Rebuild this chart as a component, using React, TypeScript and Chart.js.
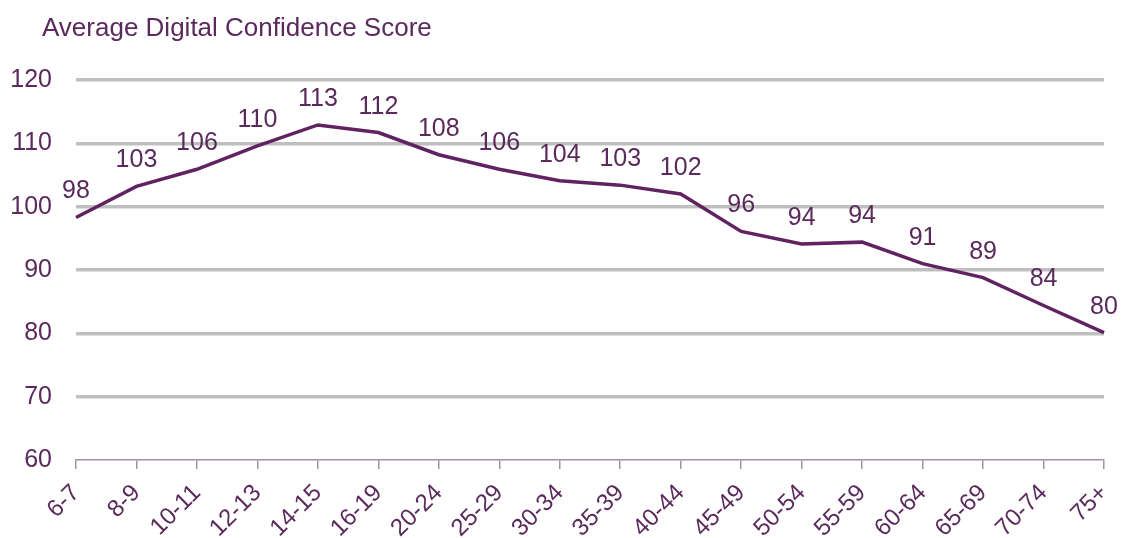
import React, { useEffect, useRef } from "react";
import { Chart, registerables } from "chart.js";

Chart.register(...registerables);

const TITLE = "Average Digital Confidence Score";
const categories = [
  "6-7", "8-9", "10-11", "12-13", "14-15", "16-19", "20-24", "25-29", "30-34",
  "35-39", "40-44", "45-49", "50-54", "55-59", "60-64", "65-69", "70-74", "75+",
];
const scores = [
  98.3, 103.2, 105.9, 109.6, 112.9, 111.7, 108.2, 105.9, 104.1,
  103.4, 102.0, 96.1, 94.1, 94.4, 91.0, 88.8, 84.4, 80.1,
];
const yMin = 60;
const yMax = 120;
const yStep = 10;

const FONT = "'Liberation Sans', Arial, sans-serif";
const TEXT = "#5a2a5c";
const LINE = "#612262";
const GRID = "#bfbfbf";
const AXIS = "#a48fa6";

const labelPlugin = {
  id: "labelsAndTitle",
  afterDatasetsDraw(chart: any) {
    const ctx = chart.ctx;
    ctx.save();
    ctx.fillStyle = TEXT;
    ctx.font = `25px ${FONT}`;
    ctx.textAlign = "center";
    ctx.textBaseline = "alphabetic";
    const meta = chart.getDatasetMeta(0);
    meta.data.forEach((pt: any, i: number) => {
      ctx.fillText(String(Math.round(scores[i])), pt.x, pt.y - 19);
    });
    ctx.font = `26px ${FONT}`;
    ctx.textAlign = "left";
    ctx.fillText(TITLE, 42, 36);
    ctx.restore();
  },
};

export default function App() {
  const ref = useRef<HTMLCanvasElement | null>(null);
  useEffect(() => {
    if (!ref.current) return;
    const chart = new Chart(ref.current, {
      type: "line",
      data: {
        labels: categories,
        datasets: [
          {
            data: scores,
            borderColor: LINE,
            borderWidth: 3.5,
            pointRadius: 0,
            tension: 0,
            fill: false,
          },
        ],
      },
      options: {
        animation: false,
        responsive: true,
        maintainAspectRatio: false,
        layout: { padding: { top: 80, right: 20, left: 0, bottom: 0 } },
        plugins: {
          legend: { display: false },
          tooltip: { enabled: false },
          title: { display: false },
        },
        scales: {
          x: {
            offset: false,
            afterFit: (s: any) => {
              s.height = 78;
              s.paddingLeft = 0;
              s.paddingRight = 0;
            },
            grid: {
              display: true,
              drawOnChartArea: false,
              drawTicks: true,
              tickLength: 9,
              color: AXIS,
              lineWidth: 1.5,
            },
            border: { display: true, color: AXIS, width: 1.5 },
            ticks: {
              autoSkip: false,
              maxRotation: 45,
              minRotation: 45,
              padding: 10,
              color: TEXT,
              font: { family: FONT, size: 24 },
            },
          },
          y: {
            min: yMin,
            max: yMax,
            afterFit: (s: any) => {
              s.width = 76;
            },
            grid: {
              drawTicks: false,
              color: (c: any) => (c.tick && c.tick.value === yMin ? "rgba(0,0,0,0)" : GRID),
              lineWidth: 3.5,
            },
            border: { display: false },
            ticks: {
              stepSize: yStep,
              padding: 24,
              color: TEXT,
              font: { family: FONT, size: 25 },
            },
          },
        },
      },
      plugins: [labelPlugin],
    });
    return () => chart.destroy();
  }, []);
  return (
    <div style={{ position: "fixed", left: 0, top: 0, width: 1124, height: 538, background: "#fff" }}>
      <canvas ref={ref} />
    </div>
  );
}
